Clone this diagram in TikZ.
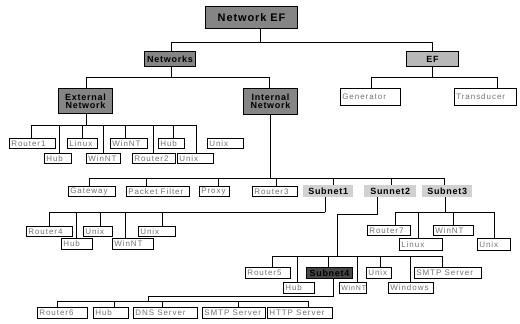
\documentclass[tikz,border=0pt]{standalone}
\usepackage{fontspec}
\setmainfont{Liberation Sans}
\newfontfamily\leaffont[LetterSpace=12]{Liberation Sans}
\newfontfamily\headfont[LetterSpace=8]{Liberation Sans}
% leaf box: name, x, y (top left), width, height, text
\newcommand\leafnode[6]{%
  \node[leafbox, minimum width=#4pt, minimum height=#5pt, anchor=north west]
    (#1) at (#2,#3) {\hbox to \dimexpr#4pt-4pt\relax{#6\hss}};}
% heading box: style, name, x, y, width, height, text
\newcommand\headnode[7]{%
  \node[#1, minimum width=#5pt, minimum height=#6pt, anchor=north west]
    (#2) at (#3,#4) {#7};}
\begin{document}
\begin{tikzpicture}[x=1pt, y=-1pt,
  wire/.style={draw=black, line width=0.7pt},
  leafbox/.style={draw=black, line width=0.6pt, fill=white, inner sep=0pt,
    font=\leaffont\fontsize{8}{8}\selectfont, text=black!55},
  darkhead/.style={draw=black, line width=1pt, fill=black!48, inner sep=0pt,
    font=\headfont\fontsize{9}{9.5}\selectfont\bfseries, align=center},
  midhead/.style={darkhead, fill=black!28},
  lighthead/.style={inner sep=0pt, fill=black!18,
    font=\headfont\fontsize{9}{9.5}\selectfont\bfseries, align=center},
  subhead/.style={darkhead, fill=black!72},
]
\useasboundingbox (0,0) rectangle (520,324);

% top levels
\headnode{darkhead}{netef}{205}{6}{92}{22}{\fontsize{11}{12}\selectfont Network EF}
\headnode{darkhead}{networks}{144}{51}{51}{15}{Networks}
\headnode{midhead}{ef}{406}{51}{52}{15}{EF}
\headnode{darkhead}{ext}{58}{88}{54}{25}{External\\[-1.5pt]Network}
\headnode{darkhead}{int}{243}{88}{54}{26}{Internal\\[-1.5pt]Network}
\leafnode{gen}{340}{88}{60}{17}{Generator}
\leafnode{trans}{454}{88}{62}{17}{Transducer}

% external network
\leafnode{r1}{9}{138}{46}{10}{Router1}
\leafnode{linA}{67}{138}{30}{10}{Linux}
\leafnode{wntB}{110}{138}{37}{10}{WinNT}
\leafnode{hubB}{158}{138}{26}{10}{Hub}
\leafnode{unxB}{207}{138}{36}{10}{Unix}
\leafnode{hubA}{44}{153}{27}{10}{Hub}
\leafnode{wntA}{86}{153}{34}{10}{WinNT}
\leafnode{r2}{132}{153}{43}{10}{Router2}
\leafnode{unxA}{177}{153}{36}{10}{Unix}

% internal network
\leafnode{gw}{68}{186}{47}{10}{Gateway}
\leafnode{pf}{126}{186}{63}{10}{Packet Filter}
\leafnode{px}{199}{186}{30}{10}{Proxy}
\leafnode{r3}{252}{186}{45}{10}{Router3}
\headnode{lighthead}{sub1}{303}{185}{50}{12}{Subnet1}
\headnode{lighthead}{sub2}{364}{185}{52}{12}{Sunnet2}
\headnode{lighthead}{sub3}{422}{185}{50}{12}{Subnet3}

% subnet 1
\leafnode{r4}{26}{226}{46}{10}{Router4}
\leafnode{unxC}{83}{226}{29}{10}{Unix}
\leafnode{unxD}{138}{226}{37}{10}{Unix}
\leafnode{hubC}{61}{238}{31}{11}{Hub}
\leafnode{wntC}{112}{238}{41}{11}{WinNT}

% subnet 3
\leafnode{r7}{367}{225}{43}{10}{Router7}
\leafnode{wntE}{433}{225}{40}{10}{WinNT}
\leafnode{linB}{399}{238}{43}{12}{Linux}
\leafnode{unxF}{477}{238}{33}{12}{Unix}

% subnet 2
\leafnode{r5}{245}{267}{45}{11}{Router5}
\headnode{subhead}{sub4}{306}{267}{46}{11}{Subnet4}
\leafnode{unxE}{366}{267}{25}{11}{Unix}
\leafnode{smtpA}{414}{267}{67}{11}{SMTP Server}
\leafnode{hubD}{283}{282}{31}{11}{Hub}
\leafnode{wntD}{339}{282}{27}{11}{\fontsize{7}{7}\selectfont WinNT}
\leafnode{winD}{388}{282}{45}{11}{Windows}

% subnet 4
\leafnode{r6}{37}{307}{50}{11}{Router6}
\leafnode{hubE}{93}{307}{35}{11}{Hub}
\leafnode{dns}{133}{307}{64}{11}{DNS Server}
\leafnode{smtpB}{202}{307}{63}{11}{SMTP Server}
\leafnode{http}{267}{307}{65}{11}{HTTP Server}

% connectors: stem from parent to bus, then one drop per child
\coordinate (j0) at (260,42);
\draw[wire] (netef.south -| j0) -- (j0);
\foreach \n/\x in {networks/171, ef/432} \draw[wire] (j0) -| (\n.north -| \x,0);

\coordinate (j1) at (171,77);
\draw[wire] (networks.south -| j1) -- (j1);
\foreach \n/\x in {ext/86, int/269} \draw[wire] (j1) -| (\n.north -| \x,0);

\coordinate (j2) at (432,77);
\draw[wire] (ef.south -| j2) -- (j2);
\foreach \n/\x in {gen/371, trans/497} \draw[wire] (j2) -| (\n.north -| \x,0);

\coordinate (j3) at (86,125);
\draw[wire] (ext.south -| j3) -- (j3);
\foreach \n/\x in {r1/31, hubA/59, linA/82, wntA/103, wntB/125, r2/153, hubB/173, unxA/196}
  \draw[wire] (j3) -| (\n.north -| \x,0);

\coordinate (j4) at (270,178);
\draw[wire] (int.south -| j4) -- (j4);
\foreach \n/\x in {gw/89, pf/146, px/218, r3/276, sub1/333, sub2/391, sub3/444}
  \draw[wire] (j4) -| (\n.north -| \x,0);

\coordinate (j5) at (325,212);
\draw[wire] (sub1.south -| j5) -- (j5);
\foreach \n/\x in {r4/49, hubC/76, unxC/100, wntC/125, unxD/162}
  \draw[wire] (j5) -| (\n.north -| \x,0);

\coordinate (j6) at (337,256);
\draw[wire] (sub2.south -| 377,0) -- (377,214) -| (j6);
\foreach \n/\x in {r5/272, hubD/297, sub4/328, wntD/357, unxE/380, winD/410, smtpA/442}
  \draw[wire] (j6) -| (\n.north -| \x,0);

\coordinate (j7) at (445,212);
\draw[wire] (sub3.south -| j7) -- (j7);
\foreach \n/\x in {r7/395, linB/418, wntE/453, unxF/494}
  \draw[wire] (j7) -| (\n.north -| \x,0);

\coordinate (j8) at (148,301);
\draw[wire] (sub4.south -| 333,0) -- (333,296) -| (j8);
\foreach \n/\x in {r6/57, hubE/114, dns/162, smtpB/238, http/308}
  \draw[wire] (j8) -| (\n.north -| \x,0);
\end{tikzpicture}
\end{document}
